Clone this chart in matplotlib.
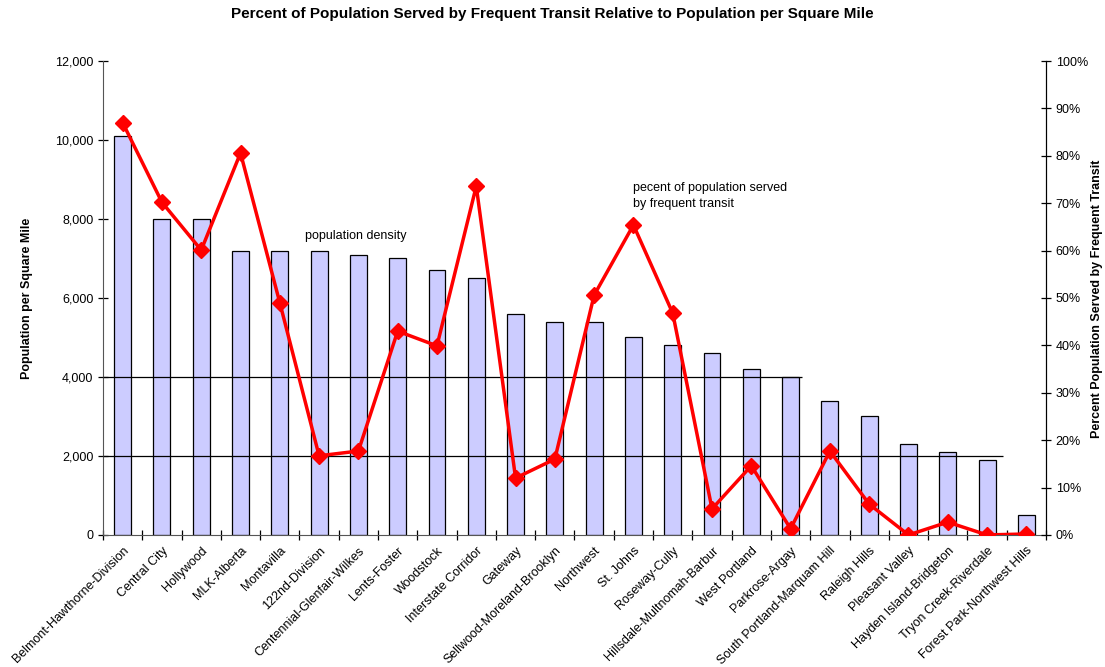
import numpy as np
import matplotlib.pyplot as plt
from matplotlib.ticker import FuncFormatter, PercentFormatter

plt.rcParams['font.family'] = ['Liberation Sans', 'DejaVu Sans']

neighborhoods = ['Belmont-Hawthorne-Division', 'Central City', 'Hollywood', 'MLK-Alberta',
                 'Montavilla', '122nd-Division', 'Centennial-Glenfair-Wilkes', 'Lents-Foster',
                 'Woodstock', 'Interstate Corridor', 'Gateway', 'Sellwood-Moreland-Brooklyn',
                 'Northwest', 'St. Johns', 'Roseway-Cully', 'Hillsdale-Multnomah-Barbur',
                 'West Portland', 'Parkrose-Argay', 'South Portland-Marquam Hill', 'Raleigh Hills',
                 'Pleasant Valley', 'Hayden Island-Bridgeton', 'Tryon Creek-Riverdale',
                 'Forest Park-Northwest Hills']
density = [10100, 8000, 8000, 7200, 7200, 7200, 7100, 7000, 6700, 6500, 5600, 5400,
           5400, 5000, 4800, 4600, 4200, 4000, 3400, 3000, 2300, 2100, 1900, 500]
pct_served = [87.0, 70.2, 60.1, 80.6, 49.0, 16.7, 17.7, 43.0, 39.9, 73.6, 12.0, 16.0,
              50.6, 65.4, 46.8, 5.5, 14.6, 1.3, 17.7, 6.5, 0.0, 2.7, 0.0, 0.2]

x = np.arange(len(neighborhoods))

fig = plt.figure(figsize=(11.05, 6.67), dpi=100)
ax = fig.add_axes([0.0932, 0.198, 0.8534, 0.7105])
ax2 = ax.twinx()

ax.bar(x, density, width=0.43, color='#CCCCFF', edgecolor='black', linewidth=0.9, zorder=2)
# reference lines at 4,000 and 2,000 (drawn over the bars)
ax.hlines(4000, -0.5, 17.3, color='black', lw=0.9, zorder=3)
ax.hlines(2000, -0.5, 22.4, color='black', lw=0.9, zorder=3)
ax2.plot(x, pct_served, color='#FF0000', lw=2.5, marker='D', markersize=8, zorder=3)

ax.set_xlim(-0.5, len(neighborhoods) - 0.5)
ax.set_ylim(0, 12000)
ax.set_yticks(np.arange(0, 12001, 2000))
ax.yaxis.set_major_formatter(FuncFormatter(lambda v, p: f'{int(v):,}'))
ax2.set_ylim(0, 100)
ax2.set_yticks(np.arange(0, 101, 10))
ax2.yaxis.set_major_formatter(PercentFormatter(decimals=0))

ax.set_xticks(x)
ax.set_xticklabels(neighborhoods, rotation=45, ha='right', rotation_mode='anchor', fontsize=9)
ax.tick_params(axis='x', which='major', length=0, pad=7)
ax.set_xticks(np.arange(-0.5, len(neighborhoods), 1), minor=True)
ax.tick_params(axis='x', which='minor', length=7, direction='inout', width=0.9)
ax.tick_params(axis='y', length=7, direction='inout', labelsize=9, width=0.9)
ax2.tick_params(axis='y', length=7, direction='inout', labelsize=9, width=0.9)

for a in (ax, ax2):
    a.spines['top'].set_visible(False)
ax.spines['left'].set_color('#555555')
ax.spines['bottom'].set_color('#555555')
ax2.spines['left'].set_visible(False)
ax2.spines['bottom'].set_visible(False)

ax.set_ylabel('Population per Square Mile', fontsize=9, fontweight='bold', labelpad=16)
fig.text(1097 / 1105, 1 - 299 / 667, 'Percent Population Served by Frequent Transit',
         rotation=90, fontsize=9, fontweight='bold', ha='center', va='center')

ax.text(4.64, 7570, 'population density', fontsize=9, va='center', ha='left', zorder=5)
ax2.text(13.0, 71.5, 'pecent of population served\nby frequent transit', fontsize=9,
         va='center', ha='left', linespacing=1.4)

fig.suptitle('Percent of Population Served by Frequent Transit Relative to Population per Square Mile',
             fontsize=11, fontweight='bold', y=0.99)

fig.savefig('out.png', dpi=100)
